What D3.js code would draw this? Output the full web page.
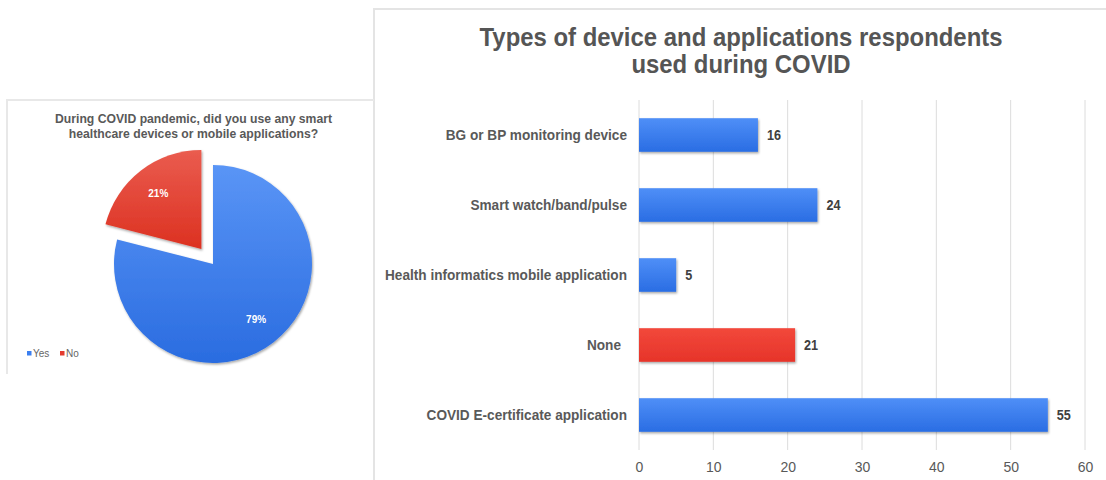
<!DOCTYPE html>
<html><head><meta charset="utf-8">
<script src="https://cdn.jsdelivr.net/npm/d3@7"></script>
<style>body{margin:0;background:#fff;} text{font-family:"Liberation Sans",Arial,Helvetica,sans-serif;}</style>
</head><body><svg id="c" width="1106" height="480"></svg>
<script>
const categories = ["BG or BP monitoring device","Smart watch/band/pulse","Health informatics mobile application","None","COVID E-certificate application"];
const counts = [16,24,5,21,55];
const highlight = [false,false,false,true,false];
const xTicks = [0,10,20,30,40,50,60];
const pieLabels = ["Yes","No"];
const pieShares = [79,21];
const barTitle = ["Types of device and applications respondents","used during COVID"];
const pieTitle = ["During COVID pandemic, did you use any smart","healthcare devices or mobile applications?"];

const svg = d3.select("#c");
const defs = svg.append("defs");
function grad(id, c1, c2){
  const g = defs.append("linearGradient").attr("id",id).attr("x1",0).attr("y1",0).attr("x2",0).attr("y2",1);
  g.append("stop").attr("offset","0%").attr("stop-color",c1);
  g.append("stop").attr("offset","100%").attr("stop-color",c2);
}
grad("gBlue","#4f8ff7","#2a6de3");
grad("gRed","#f2483b","#e6342a");
grad("pBlue","#5a95f6","#2a6ce0");
grad("pRed","#ea5c4f","#dc3121");
const f = defs.append("filter").attr("id","sh").attr("x","-10%").attr("y","-10%").attr("width","130%").attr("height","140%");
f.append("feDropShadow").attr("dx",1).attr("dy",1.5).attr("stdDeviation",1.2).attr("flood-color","#000").attr("flood-opacity",0.35);

function squeeze(sel, k){
  sel.each(function(){
    const L = this.getComputedTextLength();
    d3.select(this).attr("textLength", L*k).attr("lengthAdjust","spacingAndGlyphs");
  });
}
function fitK(node, target){ return target / node.getComputedTextLength(); }

// panel borders
svg.append("path").attr("d","M374,480 L374,9 L1106,9").attr("fill","none").attr("stroke","#e4e4e4").attr("stroke-width",2);
svg.append("path").attr("d","M7,374 L7,100 L374,100").attr("fill","none").attr("stroke","#e8e8e8").attr("stroke-width",2);

// ---------- bar chart ----------
const x = d3.scaleLinear().domain([0,60]).range([639,1085]);
const y = d3.scaleBand().domain(categories).range([100,450]).paddingInner(0.52).paddingOuter(0.26);

const grid = svg.append("g");
grid.selectAll("line").data(xTicks).join("line")
  .attr("x1",d=>x(d)).attr("x2",d=>x(d)).attr("y1",100).attr("y2",450)
  .attr("stroke","#dcdcdc").attr("stroke-width",1);

const xAxis = svg.append("g").attr("transform","translate(0,450)")
  .call(d3.axisBottom(x).tickValues(xTicks).tickSize(0).tickPadding(12));
xAxis.select(".domain").remove();
xAxis.selectAll("text").attr("font-family","Liberation Sans, Arial, sans-serif").attr("font-size",14).attr("fill","#595959");

svg.append("g").selectAll("rect").data(categories).join("rect")
  .attr("x",x(0)).attr("y",d=>y(d)).attr("height",y.bandwidth())
  .attr("width",(d,i)=>x(counts[i])-x(0))
  .attr("fill",(d,i)=>highlight[i]?"url(#gRed)":"url(#gBlue)")
  .attr("filter","url(#sh)");

const catLab = svg.append("g").selectAll("text").data(categories).join("text")
  .attr("x",(d,i)=>highlight[i]?621:627).attr("y",d=>y(d)+y.bandwidth()/2+5)
  .attr("text-anchor","end").attr("font-size",14).attr("font-weight","bold").attr("fill","#595959")
  .text(d=>d);
const kCat = fitK(catLab.nodes()[2], 242);
squeeze(catLab, kCat);

const valLab = svg.append("g").selectAll("text").data(categories).join("text")
  .attr("x",(d,i)=>x(counts[i])+9).attr("y",d=>y(d)+y.bandwidth()/2+5)
  .attr("font-size",14).attr("font-weight","bold").attr("fill","#404040")
  .text((d,i)=>counts[i]);
squeeze(valLab, 0.9);

const tLab = svg.append("g").selectAll("text").data(barTitle).join("text")
  .attr("x",741).attr("y",(d,i)=>46+i*27).attr("text-anchor","middle")
  .attr("font-size",25).attr("font-weight","bold").attr("fill","#555")
  .text(d=>d);
const kT = fitK(tLab.nodes()[0], 523);
squeeze(tLab, kT);

// ---------- pie chart ----------
const pcx = 213, pcy = 264, r = 99;
const pie = d3.pie().sort(null).value(d=>d)(pieShares);
const arc = d3.arc().innerRadius(0).outerRadius(r);
const labArc = d3.arc().innerRadius(r*0.71).outerRadius(r*0.71);
const pieCols = ["url(#pBlue)","url(#pRed)"];
const explode = [0,19];
const pg = svg.append("g").attr("transform",`translate(${pcx},${pcy})`);
const slices = pg.selectAll("g").data(pie).join("g")
  .attr("transform",(d,i)=>{
    const a = (d.startAngle+d.endAngle)/2;
    return `translate(${Math.sin(a)*explode[i]},${-Math.cos(a)*explode[i]})`;
  });
slices.append("path").attr("d",arc).attr("fill",(d,i)=>pieCols[i]).attr("filter","url(#sh)");
slices.append("text").attr("transform",d=>`translate(${labArc.centroid(d)})`)
  .attr("dy","0.35em").attr("text-anchor","middle")
  .attr("font-size",10).attr("font-weight","bold").attr("fill","#fff")
  .text((d,i)=>pieShares[i]+"%");

const ptLab = svg.append("g").selectAll("text").data(pieTitle).join("text")
  .attr("x",193.5).attr("y",(d,i)=>123+i*15).attr("text-anchor","middle")
  .attr("font-size",13).attr("font-weight","bold").attr("fill","#595959")
  .text(d=>d);
const kP = fitK(ptLab.nodes()[0], 277);
squeeze(ptLab, kP);

// legend
const legCols = ["#3b7ff0","#e43b2f"];
const legX = [27,60];
const lg = svg.append("g");
pieLabels.forEach((l,i)=>{
  lg.append("rect").attr("x",legX[i]).attr("y",351).attr("width",4.5).attr("height",4.5).attr("fill",legCols[i]);
  lg.append("text").attr("x",legX[i]+6).attr("y",357).attr("font-size",10).attr("fill","#666").text(l);
});
</script></body></html>
